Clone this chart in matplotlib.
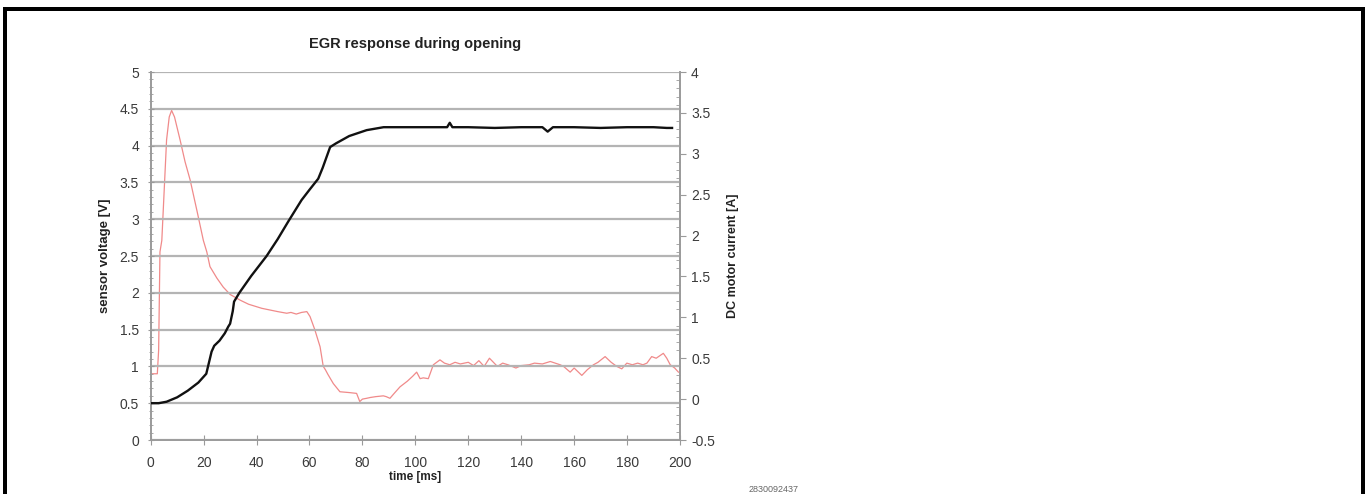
import matplotlib
matplotlib.use("Agg")
import matplotlib.pyplot as plt
from matplotlib.ticker import MultipleLocator
from matplotlib.patches import Rectangle

plt.rcParams['font.family'] = ['Liberation Sans', 'DejaVu Sans']

# sensor voltage [V] (black, left axis)
t_volt = [0, 3, 6, 10, 14, 18, 21, 22, 23, 24, 26, 28, 29.3, 30, 31, 31.5, 33.5, 38, 43.8, 48, 52,
          57, 60, 63.3, 65, 67.8, 70, 75, 81.6, 88, 92, 100, 110, 112, 113, 114, 120, 130, 140,
          148, 150, 151, 152, 160, 170, 180, 190, 195, 197]
volt = [0.5, 0.5, 0.52, 0.58, 0.67, 0.78, 0.9, 1.05, 1.2, 1.28, 1.35, 1.45, 1.54, 1.58, 1.75, 1.88, 2.0,
        2.23, 2.5, 2.73, 2.97, 3.26, 3.4, 3.55, 3.7, 3.98, 4.03, 4.13, 4.21, 4.25, 4.25, 4.25, 4.25,
        4.25, 4.31, 4.25, 4.25, 4.24, 4.25, 4.25, 4.19, 4.22, 4.25, 4.25, 4.24, 4.25, 4.25, 4.24, 4.24]

# DC motor current [A] (red, right axis)
t_curr = [0, 2.5, 3.0, 3.5, 4.2, 6.0, 7.0, 7.9, 9.0, 11.1, 13, 14.9, 17.5, 19.9, 21.2, 22.4, 25, 27.4,
          30, 33.8, 37, 40, 42, 45, 48, 51.4, 53, 55, 57, 59, 60.2, 62, 64, 65.2, 66, 67, 69, 71.5,
          75, 77.8, 79, 80, 81.6, 83, 85, 87.9, 89, 90.4, 92, 94.2, 97, 99, 100.5, 101.8, 103,
          104.9, 106.8, 109.3, 111, 113, 115, 117, 120, 122, 124, 126, 128, 131, 133, 135, 138,
          140, 143, 145, 148, 151, 154.7, 156, 158.5, 160, 162.9, 165, 167.3, 169, 171.7, 174,
          176.1, 178, 179.9, 182, 184, 186, 187.5, 189.3, 191, 193.7, 195, 196.3, 198, 199.4]
curr = [0.31, 0.31, 0.6, 1.8, 1.94, 3.17, 3.45, 3.53, 3.45, 3.17, 2.9, 2.68, 2.3, 1.94, 1.8, 1.62,
        1.48, 1.37, 1.28, 1.21, 1.16, 1.13, 1.11, 1.09, 1.07, 1.05, 1.06, 1.04, 1.06, 1.07, 1.01,
        0.85, 0.64, 0.4, 0.36, 0.3, 0.19, 0.09, 0.08, 0.07, -0.03, 0.0, 0.01, 0.02, 0.03, 0.04,
        0.03, 0.01, 0.07, 0.15, 0.22, 0.28, 0.33, 0.25, 0.26, 0.25, 0.42, 0.48, 0.44, 0.42, 0.45,
        0.43, 0.45, 0.41, 0.47, 0.40, 0.50, 0.40, 0.44, 0.42, 0.38, 0.41, 0.42, 0.44, 0.43, 0.46,
        0.42, 0.40, 0.33, 0.38, 0.29, 0.36, 0.42, 0.45, 0.52, 0.45, 0.40, 0.37, 0.44, 0.42, 0.44,
        0.42, 0.44, 0.52, 0.50, 0.56, 0.50, 0.42, 0.38, 0.33]

W, H = 1365, 494
fig = plt.figure(figsize=(W / 100, H / 100), dpi=100)
fig.patch.set_facecolor('white')

x0, x1, y0, y1 = 150.7, 680, 72, 440
ax = fig.add_axes([x0 / W, 1 - y1 / H, (x1 - x0) / W, (y1 - y0) / H])
ax2 = ax.twinx()

grid_c = '#b4b4b4'
spine_c = '#9a9a9a'
txt_c = '#3a3a3a'

ax.set_xlim(0, 200)
ax.set_ylim(0, 5)
ax2.set_ylim(-0.5, 4)

ax.yaxis.set_major_locator(MultipleLocator(0.5))
ax.yaxis.set_minor_locator(MultipleLocator(0.1))
ax.xaxis.set_major_locator(MultipleLocator(20))
ax2.yaxis.set_major_locator(MultipleLocator(0.5))
ax2.yaxis.set_minor_locator(MultipleLocator(0.1))

ax.grid(axis='y', color=grid_c, linewidth=1.6)
ax.set_axisbelow(True)

for a in (ax, ax2):
    a.spines['top'].set_visible(False)
    for s in ('left', 'right', 'bottom'):
        a.spines[s].set_color(spine_c)
        a.spines[s].set_linewidth(1.2)
    a.set_facecolor('none')

ax.tick_params(axis='y', which='major', direction='inout', length=5, color=spine_c,
               labelsize=10, labelcolor=txt_c, pad=6)
ax.tick_params(axis='y', which='minor', direction='inout', length=3, color=spine_c)
ax.tick_params(axis='x', which='major', direction='inout', length=7, color=spine_c,
               labelsize=10, labelcolor=txt_c, pad=8)
ax2.tick_params(axis='y', which='major', direction='out', length=4, color=spine_c,
                labelsize=10, labelcolor=txt_c, pad=4)
ax2.tick_params(axis='y', which='minor', direction='in', length=3, color=spine_c)

ax.set_yticklabels([('%g' % v) for v in ax.get_yticks()])
ax2.set_yticklabels([('%g' % v) for v in ax2.get_yticks()])

ax2.plot(t_curr, curr, color='#f08a8a', linewidth=0.9, zorder=2)
ax.plot(t_volt, volt, color='#111111', linewidth=1.7, zorder=3)
ax.set_zorder(ax2.get_zorder() + 1)

ax.set_ylabel('sensor voltage [V]', fontsize=9.5, fontweight='bold', color='#222222', labelpad=6)
ax2.set_ylabel('DC motor current [A]', fontsize=9, fontweight='bold', color='#222222', labelpad=9)
ax.set_xlabel('time [ms]', fontsize=8.5, fontweight='bold', color='#222222', labelpad=1)

fig.text((x0 + x1) / 2 / W, 1 - 44 / H, 'EGR response during opening', ha='center', va='center',
         fontsize=10.5, fontweight='bold', color='#222222')
fig.text(774 / W, 1 - 489 / H, '2830092437', ha='center', va='center', fontsize=6.5, color='#666666')

# outer frame (left, top, right)
fig.add_artist(Rectangle((3 / W, 0), 4 / W, (H - 7) / H, transform=fig.transFigure,
                         facecolor='black', edgecolor='none'))
fig.add_artist(Rectangle((3 / W, (H - 11) / H), (W - 3) / W, 4 / H, transform=fig.transFigure,
                         facecolor='black', edgecolor='none'))
fig.add_artist(Rectangle((1361 / W, 0), 4 / W, (H - 7) / H, transform=fig.transFigure,
                         facecolor='black', edgecolor='none'))

fig.savefig('out.png', dpi=100, facecolor='white')
